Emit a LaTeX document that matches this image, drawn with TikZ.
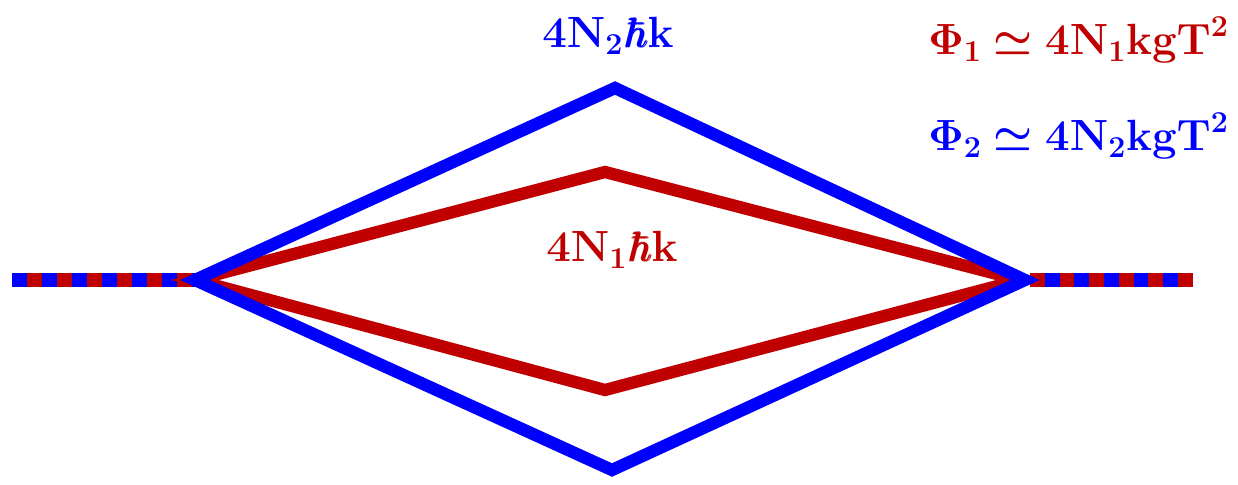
\documentclass[tikz,border=0pt]{standalone}
\usepackage{amsmath}
\usepackage{amssymb}
\usepackage{bm}
\usepackage{tikz}
\usetikzlibrary{positioning}
\definecolor{armred}{RGB}{192,0,0}
\definecolor{armblue}{RGB}{0,0,255}

\begin{document}
\begin{tikzpicture}[
  x=0.02cm, y=-0.02cm,
  arm/.style={line width=7pt, line join=miter},
  port/.style={line width=7.9pt},
  lbl/.style={font=\fontsize{23.5}{28}\selectfont, inner sep=0pt},
]
  \useasboundingbox (0,0) rectangle (1238,484);

  %% Vertices of the two paths
  \coordinate (inL)  at (12,280);
  \coordinate (L)    at (195,280);
  \coordinate (R)    at (1025,280);
  \coordinate (outR) at (1193,280);
  \coordinate (Rin)  at (1030,280);
  \coordinate (Rt)   at (1020,280);
  \coordinate (Bt)   at (615,88);
  \coordinate (Bb)   at (612,470);
  \coordinate (Rtop) at (605,172);
  \coordinate (Rbot) at (605,390);

  %% Input port: blue with red squares
  \draw[port, armblue] (inL) -- (L);
  \foreach \i in {0,...,5}
    \draw[port, armred] ([xshift=(15+30*\i)*0.02cm]inL) -- ++(15,0);

  %% Output port: red with blue squares
  \draw[port, armred] (Rin) -- (outR);
  \foreach \i in {0,...,4}
    \draw[port, armblue] ([xshift=(14.8+29.6*\i)*0.02cm]Rin) -- ++(14.8,0);

  %% Inner (red) path
  \draw[arm, armred] (L) -- (Rtop) -- (Rt) -- (Rbot) -- cycle;

  %% Outer (blue) path
  \draw[arm, armblue] (L) -- (Bt) -- (R) -- (Bb) -- cycle;

  %% Momentum labels
  \node[lbl, text=armblue] (kTop) at (608,36)
    {$\boldsymbol{4\mathrm{N}_2\hbar\mathrm{k}}$};
  \node[lbl, text=armred] (kMid) at (612,250)
    {$\boldsymbol{4\mathrm{N}_1\hbar\mathrm{k}}$};

  %% Phase formulas
  \node[lbl, text=armred, anchor=west] (phiA) at (928,40)
    {$\boldsymbol{\Phi_1\simeq 4\mathrm{N}_1\mathrm{kgT}^2}$};
  \node[lbl, text=armblue, anchor=west] (phiB) at (928,136)
    {$\boldsymbol{\Phi_2\simeq 4\mathrm{N}_2\mathrm{kgT}^2}$};
\end{tikzpicture}
\end{document}
